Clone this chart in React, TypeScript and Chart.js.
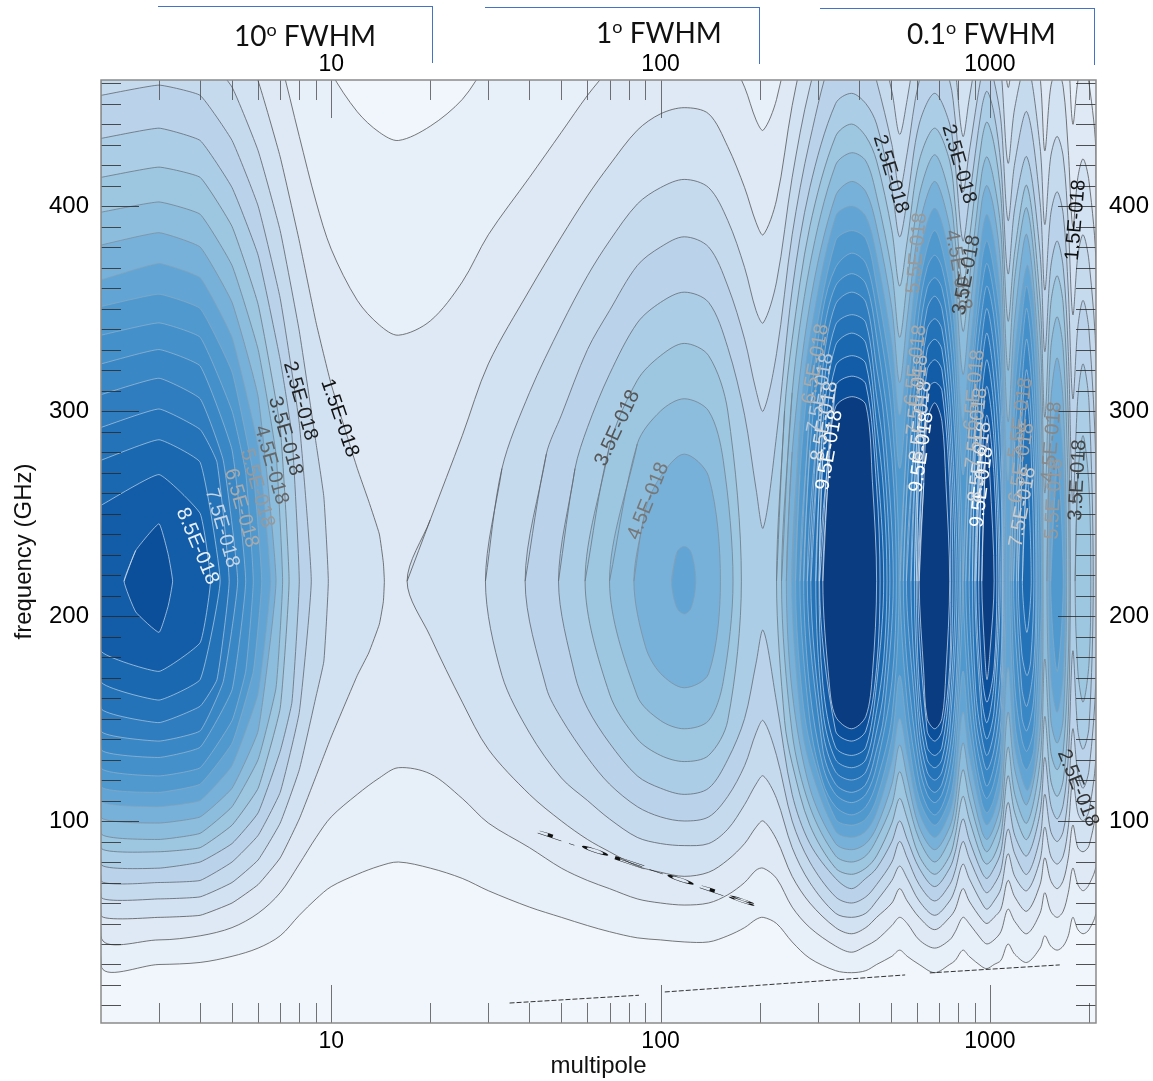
import React, { useEffect, useRef } from "react";
import { Chart, registerables } from "chart.js";
Chart.register(...registerables);

// Ring = [multipoles, upper contour GHz, lower contour GHz].
const leftCols = [2,3,4,5,6,7,8,9,10,12,14,16];
const midCols = [20,25,30,40,50,60,70,85,100,118,140,160,180,195];
const lobeCols = [205,225,251,284,340,380,420,453,504,532,561,610,680,755,785,828,865,945,980,1030,1080,1135,1190,1295,1420,1468,1530,1600,1670,1730,1786,1850,1919,2000,2100];
const allCols = [...leftCols, ...midCols, ...lobeCols];

const level1 = [[allCols,
  [600,600,600,600,600,560,530,482,465,446,436,432,439,452,470,492,510,525,540,560,600,600,600,600,600,600,600,600,600,600,600,600,600,600,600,600,600,600,600,600,600,600,600,600,600,600,600,600,600,600,600,600,600,600,600,600,600,600,600,600,600],
  [30,30,31,34,38,44,54,62,68,74,78,80,77,72,66,58,53,49,46,43,42,41,41,44,48,52,53,50,41,33,27,26,27,30,34,37,34,30,26,30,32,37,34,29,28,30,32,40,35,31,38,44,39,37,39,44,53,47,45,47,56]]];
const level2 = [[allCols,
  [560,565,560,540,505,471,434,402,379,354,342,337,344,363,386,414,436,454,467,482,490,490,490,475,458,442,437,452,490,530,570,570,570,560,520,510,525,560,570,560,530,510,525,560,570,560,530,498,520,540,505,475,500,510,500,475,440,461,470,460,424],
  [44,42,44,48,55,65,79,92,102,113,121,126,123,111,99,87,77,71,67,62,60,59,60,64,70,76,77,72,58,48,39,36,39,42,49,53,50,42,38,42,46,53,50,42,40,42,46,57,51,45,55,65,56,53,56,65,77,69,66,69,79]]];
const level3 = [
  [[2,3,4,5,6,7,8,9,10,12,13,14,14.4,14.5],[509,513,509,488,461,424,383,343,313,272,256,240,226,217],[54,53,54,60,69,82,101,122,141,171,182,196,207,217]],
  [[17,...midCols,...lobeCols],
   [217,247,288,323,359,385,405,420,437,445,448,445,429,409,392,386,403,449,488,530,535,530,515,487,468,483,515,535,515,497,467,483,518,525,515,497,458,480,500,463,427,458,467,458,427,390,414,423,412,370],
   [217,190,158,135,113,100,91,85,78,75,73,75,81,89,97,100,91,73,60,48,45,48,53,60,67,61,53,47,53,57,67,61,52,50,53,57,71,63,56,69,82,71,67,71,82,98,87,85,88,108]]];
const level4 = [
  [[2,3,4,5,6,7,8,9,9.5,9.8],[478,482,477,458,427,388,339,284,258,217],[63,62,63,70,81,99,125,161,178,217]],
  [[29.4,33,40,50,60,70,85,100,118,140,160,180,195,...lobeCols],
   [217,272,309,342,366,383,401,409,413,409,393,370,349,343,363,414,458,500,510,500,486,456,435,452,486,505,486,467,434,452,488,495,486,467,421,448,470,429,391,424,434,424,391,347,376,386,373,325],
   [217,171,143,121,110,101,92,89,88,89,96,108,118,122,111,87,70,55,53,55,61,71,78,72,61,54,61,67,79,72,60,57,61,67,84,73,66,81,97,83,79,83,97,120,104,100,105,134]]];
const level5 = [
  [[2,3,4,5,6,7,8,8.7],[454,459,454,432,400,355,294,217],[71,70,71,80,93,114,153,217]],
  [[38.8,45,50,60,70,85,100,118,140,160,180,195,...lobeCols],
   [217,279,298,330,349,371,380,385,380,361,335,310,300,328,386,432,478,480,478,461,430,408,426,461,478,461,442,407,426,465,473,461,442,393,421,446,402,359,396,407,396,359,306,341,354,339,272],
   [217,165,150,131,118,107,102,100,102,112,127,143,149,132,100,80,63,60,63,69,80,90,82,69,61,69,76,90,82,68,65,69,76,96,84,74,92,113,95,90,95,113,145,123,116,125,171]]];
const level6 = [
  [[2,3,4,5,6,7,7.6,8],[433,438,432,409,376,325,288,217],[79,77,80,89,104,134,158,217]],
  [[49,55,60,70,85,100,118,140,160,180,195,205,225,251,284,340,380,420,453,504,532,561,610,680,755,785,828,865,945,980,1030,1080,1135,1190,1295,1420,1468,1530,1600,1670,1730,1786,1850,1919,2000,2060],
   [217,272,292,318,343,353,358,353,331,298,262,243,288,359,409,450,455,450,440,408,385,403,440,455,440,420,383,403,448,456,445,420,367,399,424,377,329,370,383,370,329,255,307,323,304,217],
   [217,171,155,138,122,116,113,116,130,150,177,193,158,113,89,72,67,72,77,90,100,91,77,68,77,85,101,91,75,72,77,85,109,93,83,104,131,108,101,108,131,183,144,135,146,217]]];
const level7 = [
  [[2,3,4,5,6,7,7.45],[414,419,414,390,352,292,217],[87,85,87,98,116,155,217]],
  [[59,70,85,100,118,140,160,176],[217,283,315,327,333,327,300,217],[217,162,140,132,129,132,149,217]],
  [[225,238,251,284,340,380,420,453,504,532,561,610,680,755,785,828,865,945,980,1030,1080,1135,1190,1295,1420,1468,1530,1600,1670,1730,1755],
   [217,300,335,390,434,440,434,422,388,361,383,422,438,422,400,360,383,432,441,430,405,344,378,410,354,297,352,366,352,297,217],
   [217,149,128,98,77,74,77,83,99,111,101,83,74,83,93,112,101,82,79,83,93,122,104,91,115,151,120,112,120,151,217]],
  [[1815,1850,1919,2000,2025],[217,269,288,263,217],[217,173,158,177,217]]];
const level8 = [
  [[2,3,4,5,6,6.8,7.12],[397,402,396,371,330,279,217],[94,91,94,107,130,165,217]],
  [[70,85,100,118,140,155,166],[217,284,300,306,300,276,217],[217,161,149,145,149,168,217]],
  [[233,251,284,340,380,420,453,504,532,561,610,680,755,785,828,865,945,980,1030,1080,1135,1190,1295,1420,1468,1530,1600,1670,1730,1740],
   [217,309,371,420,426,422,405,368,336,363,405,425,405,383,339,363,416,424,412,388,320,365,399,337,260,330,346,330,260,217],
   [217,143,107,83,80,83,91,108,124,111,91,80,91,101,125,111,89,85,91,101,136,113,99,129,179,134,125,134,179,217]]];
const level9 = [
  [[2,3,4,5,6,6.8],[381,387,380,353,307,217],[102,99,102,116,144,217]],
  [[83,90,100,118,140,152],[217,252,268,279,268,217],[217,185,172,165,172,217]],
  [[241,251,284,340,380,420,453,504,532,561,610,680,755,785,828,865,945,980,1030,1080,1135,1190,1295,1420,1450],
   [217,280,352,405,412,407,390,350,314,345,390,412,390,365,318,345,402,410,398,370,295,345,386,314,217],
   [217,163,116,89,86,89,97,118,137,121,97,86,97,109,138,121,95,91,97,109,153,125,108,143,217]],
  [[1490,1530,1600,1670,1710],[217,304,326,304,217],[217,150,138,150,217]]];
const level10 = [
  [[2,3,4,5,6,6.55],[364,372,365,336,283,217],[110,107,110,127,162,217]],
  [[108,112,118,124,128],[217,231,234,231,217],[217,204,201,204,217]],
  [[250,265,284,340,380,420,453,504,532,561,610,680,755,785,828,865,945,980,1030,1080,1135,1190,1295,1360,1420,1445],
   [217,295,336,395,400,395,376,333,298,327,376,399,376,349,295,327,386,396,383,354,266,328,371,352,290,217],
   [217,153,127,95,92,95,104,129,150,132,104,92,104,118,153,132,103,98,104,118,175,136,115,125,161,217]],
  [[1510,1530,1600,1670,1700],[217,278,303,278,217],[217,171,153,171,217]]];
const level11 = [
  [[2,3,4,5,5.8,6.15],[351,357,350,319,269,217],[117,114,118,138,173,217]],
  [[257,265,284,340,380,420,453,504,532,561,610,680,755,785,828,865,945,980,1030,1080,1120],
   [217,269,319,383,388,384,361,315,272,308,361,388,361,335,269,308,373,383,368,340,217],
   [217,173,138,101,98,101,111,140,171,144,111,98,111,128,173,144,109,104,111,128,217]],
  [[1150,1190,1250,1295,1360,1420,1435],[217,308,345,361,335,258,217],[217,149,129,125,135,185,217]],
  [[1530,1600,1670],[217,276,217],[217,173,217]]];
const level12 = [
  [[2,3,4,5,5.5,5.8],[337,343,336,300,270,217],[126,122,126,149,173,217]],
  [[265,284,311,340,380,420,453,504,530],[217,300,349,370,377,372,349,297,217],[217,149,119,107,103,107,119,151,217]],
  [[534,561,610,645,680,715,755,785,826],[217,288,349,370,376,370,349,318,217],[217,158,119,107,103,107,119,138,217]],
  [[830,865,905,945,980,1030,1080,1110],[217,288,335,360,372,356,323,217],[217,158,131,116,111,119,138,217]],
  [[1165,1190,1250,1295,1360,1410],[217,285,330,350,315,217],[217,166,140,134,146,217]]];
const level13 = [
  [[2,3,4,5,5.5],[323,330,322,281,217],[135,131,136,164,217]],
  [[272,284,311,340,380,420,453,504,520],[217,281,336,361,367,362,336,277,217],[217,164,127,113,109,113,127,168,217]],
  [[546,561,610,645,680,715,755,785,815],[217,264,336,360,365,360,336,300,217],[217,176,127,113,109,113,127,149,217]],
  [[845,865,905,945,980,1030,1080,1100],[217,264,320,348,361,345,305,217],[217,176,141,125,117,127,149,217]],
  [[1180,1250,1295,1360,1390],[217,312,335,295,217],[217,151,144,160,217]]];
const level14 = [
  [[2,3,4,4.7,5.2],[308,316,306,276,217],[144,139,144,168,217]],
  [[279,311,340,380,420,453,476,509],[217,321,352,358,353,321,297,217],[217,135,118,114,118,135,151,217]],
  [[558,590,610,645,680,715,755,785,807],[217,287,321,350,356,350,321,283,217],[217,159,135,118,114,118,135,162,217]],
  [[865,905,945,980,1030,1080,1092],[217,303,335,350,330,288,217],[217,151,133,125,135,162,217]],
  [[1205,1250,1295,1360,1380],[217,295,320,272,217],[217,165,156,177,217]]];
const level15 = [
  [[2,3,4,4.5,4.9],[292,301,291,275,217],[155,148,156,169,217]],
  [[286,311,340,380,420,453,476,497],[217,307,342,347,343,307,280,217],[217,144,124,120,124,144,164,217]],
  [[576,610,645,680,715,755,795],[217,307,340,345,340,307,217],[217,144,124,120,124,144,217]],
  [[885,905,945,980,1030,1080,1088],[217,288,322,338,315,265,217],[217,164,141,132,144,177,217]],
  [[1220,1250,1295,1330,1360],[217,268,305,285,217],[217,182,171,178,217]]];
const level16 = [
  [[2,3,4,4.6],[276,286,275,217],[168,159,169,217]],
  [[296,311,340,380,420,453,476,487],[217,293,332,338,333,293,260,217],[217,154,130,126,130,154,179,217]],
  [[590,610,645,680,715,755,785],[217,293,330,335,330,293,217],[217,154,130,126,130,154,217]],
  [[900,945,980,1030,1075],[217,306,325,300,217],[217,150,140,154,217]],
  [[1255,1295,1335],[217,270,217],[217,192,217]]];
const level17 = [
  [[2,3,4,4.3],[254,269,250,217],[183,173,187,217]],
  [[303,311,340,380,420,453,476],[217,278,322,327,323,278,217],[217,167,136,132,136,167,217]],
  [[598,610,645,680,715,755,772],[217,278,320,325,320,278,217],[217,167,136,132,136,167,217]],
  [[907,945,980,1030,1065],[217,293,312,285,217],[217,160,148,167,217]]];
const level18 = [
  [[2.35,2.55,3,3.2,3.3],[217,232,245,230,217],[217,202,192,205,217]],
  [[304,340,380,420,453,464],[217,312,317,313,263,217],[217,144,139,144,175,217]],
  [[604,645,680,715,755,760],[217,310,314,310,263,217],[217,144,139,144,175,217]],
  [[925,945,980,1030,1050],[217,275,298,268,217],[217,173,158,175,217]]];
const level19 = [
  [[311,325,340,380,420,440,453],[217,275,302,307,303,265,217],[217,168,151,145,151,172,217]],
  [[610,630,645,680,715,735,755],[217,265,295,304,295,265,217],[217,172,150,145,150,172,217]],
  [[945,965,980,1000,1030],[217,268,287,268,217],[217,182,169,182,217]]];

const allLevels = [level1,level2,level3,level4,level5,level6,level7,level8,level9,level10,level11,level12,level13,level14,level15,level16,level17,level18,level19];
const levelFills = ["#E7F0F9","#DEE9F5","#D2E2F2","#C6DAEE","#BAD3EA","#ACCDE6","#9DC6E1","#8CBDDD","#77B1DA","#62A5D5","#5099CF","#4490CA","#3A87C5","#2F7CBE","#2472B7","#1A68B0","#125CA8","#0B4E9A","#093C80"];
const levelLines = ["#555","#555","#555","#5a5f66","#5f666e","#636b75","#6b7782","#74838f","#7d8f9e","#86a0b4","#8eaac0","#98b4ca","#a4bed2","#b0c8da","#bcd2e4","#c8dcea","#d6e4f0","#e2ecf5","#ecf2f8"];

const xMajor = [10,100,1000];
const xMinor = [3,4,5,6,7,8,9,20,30,40,50,60,70,80,90,200,300,400,500,600,700,800,900,2000];
const yMajor = [100,200,300,400];
const yMinor = [10,20,30,40,50,60,70,80,90,110,120,130,140,150,160,170,180,190,210,220,230,240,250,260,270,280,290,310,320,330,340,350,360,370,380,390,410,420,430,440,450,460];

const labelTexts = ["1.5E-018","2.5E-018","3.5E-018","4.5E-018","5.5E-018","6.5E-018","7.5E-018","8.5E-018","3.5E-018","4.5E-018","2.5E-018","2.5E-018","4.5E-018","3.5E-018","5.5E-018","9.5E-018","8.5E-018","7.5E-018","6.5E-018","9.5E-018","8.5E-018","7.5E-018","6.5E-018","9.5E-018","8.5E-018","7.5E-018","6.5E-018","7.5E-018","6.5E-018","5.5E-018","4.5E-018","5.5E-018","3.5E-018","1.5E-018","2.5E-018"];
const labelMultipoles = [10.6,8.05,7.25,6.57,5.96,5.33,4.66,3.92,74,91.9,500,805,800,851,600,326,315,306,296,621,617,604,596,946,933,913,899,1259,1250,1241,1542,1566,1848,1824,1848];
const labelFreqs = [296.6,304.9,287.8,273.7,262.4,252.7,242.9,234.1,291.7,256.1,415.6,420.5,368.8,366.3,377,281,295,308.8,322.9,280,295,307.8,322.4,262.9,275.1,291.7,310.2,253.2,274.6,296.6,284.9,257.1,266.3,393.2,116.1];
const labelAngles = [71,74,74,74,74,74,74,67,-65,-68,73,74,80,-79,-85,-80,-80,-80,-80,-82,-84,-84,-84,-83,-83,-84,-85,-80,-81,-82,-85,-87,-87,-85,68];
const labelColors = ["#111","#222","#444","#666","#999","#aaa","#c5d5e5","#e8f0f8","#555","#777","#222","#222","#777","#444","#999","#fff","#ddd","#b8c8d8","#aaa","#fff","#ddd","#bbb","#aaa","#fff","#ddd","#bbb","#aaa","#ccc","#aaa","#999","#888","#999","#444","#111","#333"];

const streakMultipoles = [[34.8,86],[103,553],[657,1630]];
const streakFreqs = [[11.2,15],[16.6,24.9],[25.9,29.8]];

const FONT = '"Liberation Sans", Arial, sans-serif';

function ringPoints(ring: number[][]) {
  const [ls, ups, los] = ring;
  const pts: { x: number; y: number }[] = [];
  ls.forEach((l, i) => pts.push({ x: l, y: ups[i] }));
  for (let i = ls.length - 1; i >= 0; i--) {
    if (los[i] !== ups[i]) pts.push({ x: ls[i], y: los[i] });
  }
  pts.push({ ...pts[0] });
  if (ls[0] > 2) pts.push({ ...pts[1] });
  return pts;
}

const overlayPlugin = {
  id: "overlay",
  beforeDatasetsDraw(chart: any) {
    const { ctx, chartArea: a } = chart;
    ctx.save();
    ctx.fillStyle = "#F0F6FC";
    ctx.fillRect(a.left, a.top, a.right - a.left, a.bottom - a.top);
    ctx.restore();
  },
  afterDatasetsDraw(chart: any) {
    const { ctx, chartArea: a, scales } = chart;
    ctx.save();
    ctx.lineWidth = 1;
    const vtick = (v: number, len: number) => {
      const x = Math.round(scales.x.getPixelForValue(v)) + 0.5;
      ctx.beginPath();
      ctx.moveTo(x, a.top); ctx.lineTo(x, a.top + len);
      ctx.moveTo(x, a.bottom); ctx.lineTo(x, a.bottom - len);
      ctx.stroke();
    };
    const htick = (v: number, len: number) => {
      const y = Math.round(scales.y.getPixelForValue(v)) + 0.5;
      ctx.beginPath();
      ctx.moveTo(a.left, y); ctx.lineTo(a.left + len, y);
      ctx.moveTo(a.right, y); ctx.lineTo(a.right - len, y);
      ctx.stroke();
    };
    ctx.strokeStyle = "rgba(70,70,70,0.75)";
    xMinor.forEach((v) => vtick(v, 20));
    xMajor.forEach((v) => vtick(v, 38));
    ctx.strokeStyle = "rgba(40,40,40,0.8)";
    yMinor.forEach((v) => htick(v, 20));
    yMajor.forEach((v) => htick(v, 38));
    ctx.strokeStyle = "#8a8a8a";
    ctx.lineWidth = 1.5;
    ctx.strokeRect(a.left, a.top, a.right - a.left, a.bottom - a.top);

    ctx.font = `20px ${FONT}`;
    ctx.textAlign = "center";
    ctx.textBaseline = "middle";
    labelTexts.forEach((t, i) => {
      const x = scales.x.getPixelForValue(labelMultipoles[i]);
      const y = scales.y.getPixelForValue(labelFreqs[i]);
      ctx.save();
      ctx.translate(x, y);
      ctx.rotate((labelAngles[i] * Math.PI) / 180);
      ctx.fillStyle = labelColors[i];
      ctx.fillText(t, 0, 0);
      ctx.restore();
    });
    // The degenerate, flattened contour label along the lowest lobe.
    ctx.save();
    ctx.translate(scales.x.getPixelForValue(90), scales.y.getPixelForValue(77));
    ctx.rotate((18.7 * Math.PI) / 180);
    ctx.scale(2.9, 0.26);
    ctx.fillStyle = "#111";
    ctx.fillText("1.0E-018", 0, 0);
    ctx.restore();
    ctx.restore();
  },
};

const axisFixed = (size: number, horizontal: boolean) => (s: any) => {
  if (horizontal) s.height = size; else s.width = size;
};
const setTicks = (values: number[]) => (s: any) => { s.ticks = values.map((v) => ({ value: v })); };

const FWHM: [string, string, number, number][] = [["10", " FWHM", 234, 17], ["1", " FWHM", 596, 14], ["0.1", " FWHM", 907, 15]];
const BRACKETS = [[158, 6, 274, 56], [485, 7, 274, 56], [820, 8, 274, 56]];

export default function App() {
  const ref = useRef<HTMLCanvasElement>(null);
  useEffect(() => {
    const datasets: any[] = [];
    allLevels.forEach((rings, k) => {
      rings.forEach((ring) => {
        const isLeft = ring[0][ring[0].length - 1] < 16;
        datasets.push({
          data: ringPoints(ring),
          showLine: true,
          fill: "shape",
          backgroundColor: levelFills[k],
          borderColor: levelLines[k],
          borderWidth: k >= 9 ? 0.65 : 0.8,
          pointRadius: 0,
          tension: isLeft ? 0.12 : 0.32,
          order: -k - 1,
        });
      });
    });
    streakMultipoles.forEach((ls, i) => {
      datasets.push({
        data: ls.map((l, j) => ({ x: l, y: streakFreqs[i][j] })),
        showLine: true,
        fill: false,
        borderColor: "#333",
        borderWidth: 1,
        borderDash: [5, 2],
        pointRadius: 0,
        order: -100,
      });
    });
    const tickFont = { family: FONT, size: 23 };
    const logTick = { color: "#000", font: tickFont, autoSkip: false, maxRotation: 0, callback: (v: any) => String(v) };
    const yTick = { color: "#000", font: { family: FONT, size: 24 }, autoSkip: false, callback: (v: any) => String(v) };
    const noGrid = { display: false, drawTicks: false };
    const chart = new Chart(ref.current!, {
      type: "scatter",
      data: { datasets },
      plugins: [overlayPlugin],
      options: {
        responsive: false,
        animation: false,
        events: [],
        layout: { padding: 0 },
        elements: { line: { capBezierPoints: false } },
        plugins: { legend: { display: false }, tooltip: { enabled: false } },
        scales: {
          x: {
            type: "logarithmic", position: "bottom", min: 2, max: 2100,
            grid: noGrid, border: { display: false },
            ticks: { ...logTick, padding: 5 },
            afterBuildTicks: setTicks(xMajor), afterFit: axisFixed(58, true),
            title: { display: true, text: "multipole", color: "#111", font: { family: FONT, size: 24 }, padding: 0 },
          },
          xTop: {
            type: "logarithmic", position: "top", min: 2, max: 2100,
            grid: noGrid, border: { display: false },
            ticks: { ...logTick, padding: 2 },
            afterBuildTicks: setTicks(xMajor), afterFit: axisFixed(80, true),
          },
          y: {
            type: "linear", position: "left", min: 1.46, max: 461.5,
            grid: noGrid, border: { display: false },
            ticks: { ...yTick, padding: 12 },
            afterBuildTicks: setTicks(yMajor), afterFit: axisFixed(101, false),
            title: { display: true, text: "frequency (GHz)", color: "#111", font: { family: FONT, size: 24 }, padding: { top: 10, bottom: 10 } },
          },
          yRight: {
            type: "linear", position: "right", min: 1.46, max: 461.5,
            grid: noGrid, border: { display: false },
            ticks: { ...yTick, padding: 13 },
            afterBuildTicks: setTicks(yMajor), afterFit: axisFixed(57, false),
          },
        },
      } as any,
    });
    return () => chart.destroy();
  }, []);
  return (
    <div style={{ position: "absolute", left: 0, top: 0, width: 1153, height: 1081, background: "#fff", overflow: "hidden" }}>
      <canvas ref={ref} width={1153} height={1081} style={{ display: "block" }} />
      {BRACKETS.map(([l, t, w, h], i) => (
        <div key={i} style={{ position: "absolute", left: l, top: t, width: w, height: h, borderTop: "1px solid #4472C4", borderRight: "1px solid #4472C4" }} />
      ))}
      {FWHM.map(([n, rest, l, t], i) => (
        <div key={i} style={{ position: "absolute", left: l, top: t, fontFamily: "Lato, sans-serif", fontSize: 28, lineHeight: "36px", color: "#111", whiteSpace: "pre" }}>
          {n}<sup style={{ fontSize: 18, lineHeight: 0 }}>o</sup>{rest}
        </div>
      ))}
    </div>
  );
}
